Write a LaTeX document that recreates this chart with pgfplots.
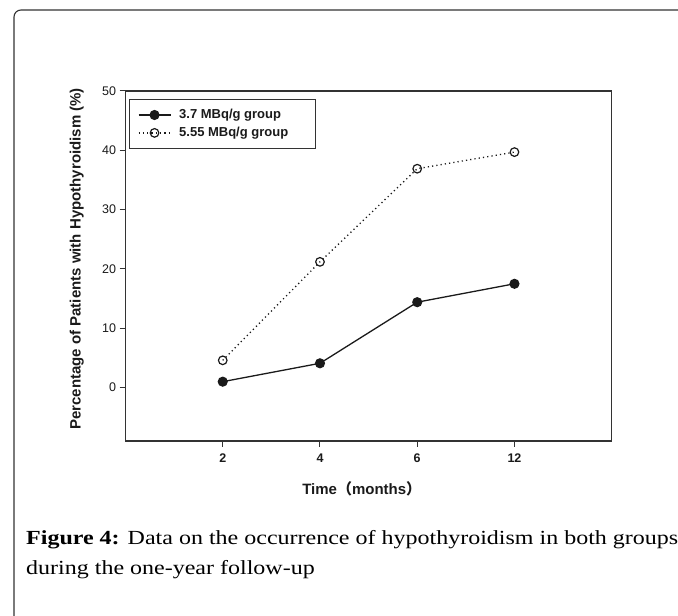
\documentclass[border=0pt]{standalone}
\usepackage{fontspec}
\usepackage{pgfplots}
\pgfplotsset{compat=1.18}
\setmainfont{Liberation Serif}
\newfontfamily\arial{Liberation Sans}
\newfontfamily\cjk{Noto Sans CJK SC}
\newfontfamily\capfont[FakeStretch=1.2]{Liberation Serif}
\definecolor{ink}{HTML}{1A1A1A}
\definecolor{axisgray}{HTML}{333333}
\begin{document}
\begin{tikzpicture}
\path[use as bounding box] (0,0) rectangle (678bp,616bp);
\clip (0,0) rectangle (678bp,616bp);
% frame
\draw[line width=1.1bp, color=black!80, rounded corners=7bp] (14bp,-10bp) -- (14bp,606bp) -- (700bp,606bp);
\begin{axis}[
  at={(125.5bp,175bp)}, anchor=south west,
  scale only axis, width=486.2bp, height=350bp,
  xmin=0, xmax=5, ymin=-9, ymax=50,
  xtick={1,2,3,4}, xticklabels={2,4,6,12},
  ytick={0,10,20,30,40,50},
  tick align=outside, tick pos=left,
  major tick length=6bp,
  every tick/.style={axisgray, line width=1bp},
  axis line style={axisgray, line width=1.3bp},
  /pgf/number format/assume math mode=true,
  yticklabel style={font=\arial\fontsize{12.5bp}{14bp}\selectfont, color=ink},
  xticklabel style={font=\arial\bfseries\fontsize{12.5bp}{14bp}\selectfont, color=ink, yshift=-3bp},
  xlabel={Time{\cjk （}months{\cjk ）}},
  ylabel={Percentage of Patients with Hypothyroidism (\%)},
  xlabel style={font=\arial\bfseries\fontsize{15bp}{18bp}\selectfont, color=ink, at={(axis description cs:0.486,-0.137)}, anchor=center},
  ylabel style={font=\arial\bfseries\fontsize{15bp}{18bp}\selectfont, color=ink, at={(axis description cs:-0.1,0.52)}, anchor=center, rotate=0},
  legend style={at={(rel axis cs:0.008,0.977)}, anchor=north west, draw=axisgray, line width=1bp,
    font=\arial\bfseries\fontsize{13bp}{15bp}\selectfont, text=ink, inner xsep=8bp, inner ysep=8bp, row sep=3bp},
  legend cell align=left,
  legend image code/.code={\draw[mark repeat=2,mark phase=2,#1] plot coordinates {(0bp,0bp) (16bp,0bp) (32bp,0bp)};},
]
\addplot[ink, line width=1.3bp, mark=*, mark size=4.4bp, mark options={solid, fill=ink, draw=ink}]
  coordinates {(1,1.0) (2,4.1) (3,14.4) (4,17.5)};
\addlegendentry{\hspace{6bp}3.7 MBq/g group}
\addplot[ink, line width=1.3bp, dash pattern=on 1.2bp off 3.1bp, mark=o, mark size=4.3bp, mark options={solid, fill=white, draw=ink, line width=1.2bp}]
  coordinates {(1,4.6) (2,21.2) (3,36.9) (4,39.7)};
\addlegendentry{\hspace{6bp}\makebox[126bp][l]{5.55 MBq/g group}}
\end{axis}
\node[anchor=base west, inner sep=0pt, font=\capfont\fontsize{20bp}{30bp}\selectfont, text=black] at (26bp,71bp) {\textbf{Figure 4:} Data on the occurrence of hypothyroidism in both groups};
\node[anchor=base west, inner sep=0pt, font=\capfont\fontsize{20bp}{30bp}\selectfont, text=black] at (26bp,41bp) {during the one-year follow-up};
\end{tikzpicture}
\end{document}
